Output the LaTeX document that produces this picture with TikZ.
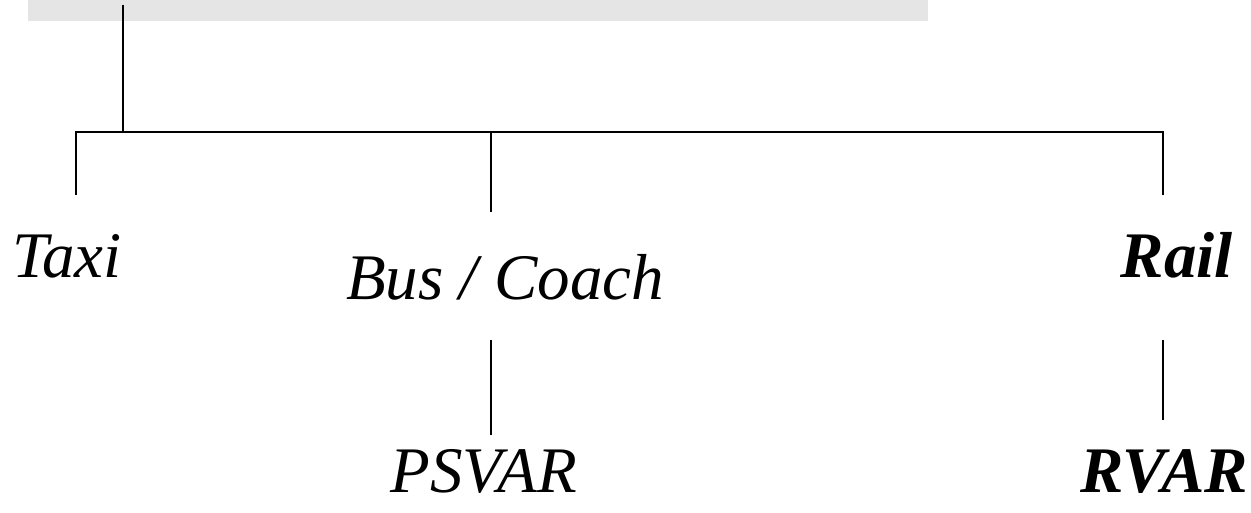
\documentclass[tikz,border=0pt]{standalone}
\usepackage{fontspec}
\setmainfont{Liberation Serif}
\usetikzlibrary{positioning}
\tikzset{
	branch/.style={line width=2.4pt, black},
	topbar/.style={fill=black!10, draw=none, minimum width=900pt, minimum height=21pt, inner sep=0},
	mode/.style={font=\fontsize{65}{65}\selectfont\itshape, inner sep=0},
	boldmode/.style={font=\fontsize{65}{65}\selectfont\bfseries\itshape, inner sep=0}
}

\begin{document}
\begin{tikzpicture}[x=1pt, y=-1pt]
		\useasboundingbox (0,0) rectangle (1251,513);

		% Grey bar at the top
		\node[topbar] (top) at (478,10.5) {};

		% Mode labels
		\node[mode, anchor=base west] (taxi) at (12,278) {Taxi};
		\node[mode, anchor=base] (bus) at (505,300) {Bus / Coach};
		\node[boldmode, anchor=base east] (rail) at (1233,278) {Rail};
		\node[mode, anchor=base] (psvar) at (484,492) {PSVAR};
		\node[boldmode, anchor=base] (rvar) at (1164,492) {RVAR};

		% Branch points
		\coordinate (root) at (123,5);
		\coordinate (fork) at (123,132);
		\coordinate (taxi-end) at (76,195);
		\coordinate (bus-end) at (491,212);
		\coordinate (rail-end) at (1163,195);
		\coordinate (bus-low) at (491,340);
		\coordinate (psvar-end) at (491,435);
		\coordinate (rail-low) at (1163,340);
		\coordinate (rvar-end) at (1163,420);

		% Draw the tree
		\draw[branch] (root) -- (fork);
		\draw[branch] (taxi-end) |- (fork) -| (rail-end);
		\draw[branch] (fork -| bus-end) -- (bus-end);

		% Lower links
		\draw[branch] (bus-low) -- (psvar-end);
		\draw[branch] (rail-low) -- (rvar-end);
	\end{tikzpicture}
\end{document}
